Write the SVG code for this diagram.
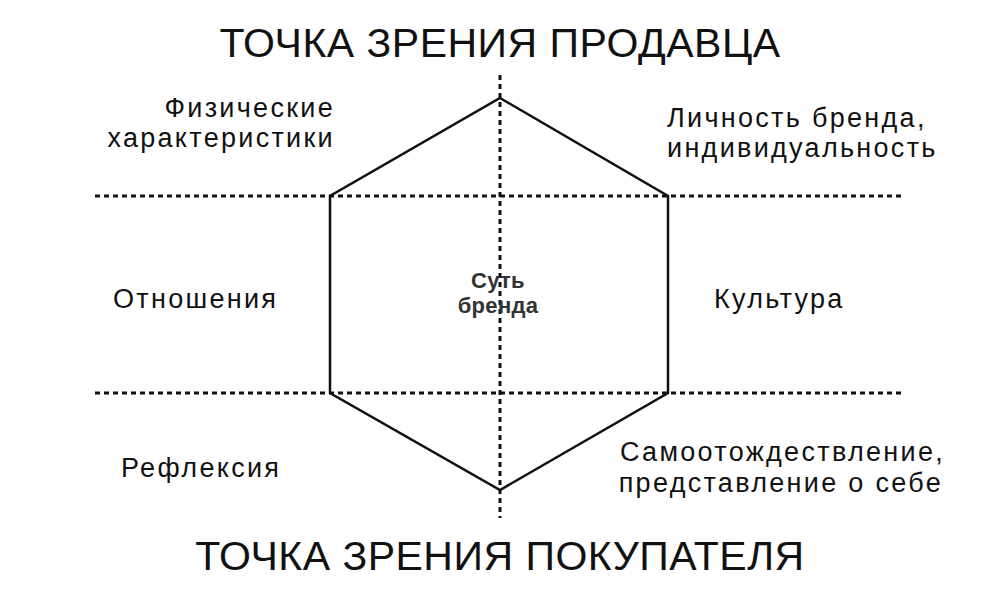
<svg xmlns="http://www.w3.org/2000/svg" width="1000" height="600" viewBox="0 0 1000 600">
<style>
.t{font-family:"Liberation Sans",Arial,sans-serif;fill:#111}
.title{font-size:41px;letter-spacing:0.5px}
.lbl{font-size:27px;letter-spacing:2.3px}
.core{font-size:22px;font-weight:bold;fill:#333;letter-spacing:0.3px}
.dot{stroke:#111;stroke-width:3;stroke-dasharray:5 4;fill:none}
.hex{stroke:#111;stroke-width:2.5;fill:none}
</style>
<rect width="1000" height="600" fill="#fff"/>
<g id="connectors">
<line class="dot" x1="95" y1="196" x2="905" y2="196"/>
<line class="dot" x1="95" y1="393" x2="905" y2="393"/>
<line class="dot" x1="500" y1="75" x2="500" y2="518"/>
</g>
<g id="hexagon">
<polygon class="hex" points="500,98 668,196 668,393 500,490 330,393 330,196"/>
</g>
<g id="title-top"><text class="t title" x="500" y="57" text-anchor="middle">ТОЧКА ЗРЕНИЯ ПРОДАВЦА</text></g>
<g id="title-bottom"><text class="t title" x="500" y="570" text-anchor="middle">ТОЧКА ЗРЕНИЯ ПОКУПАТЕЛЯ</text></g>
<g id="physical"><text class="t lbl" text-anchor="end"><tspan x="335" y="117">Физические</tspan><tspan x="335" y="147">характеристики</tspan></text></g>
<g id="personality"><text class="t lbl"><tspan x="667" y="127">Личность бренда,</tspan><tspan x="667" y="157">индивидуальность</tspan></text></g>
<g id="relations"><text class="t lbl" x="113" y="308">Отношения</text></g>
<g id="culture"><text class="t lbl" x="714" y="308">Культура</text></g>
<g id="reflection"><text class="t lbl" x="121" y="477">Рефлексия</text></g>
<g id="self"><text class="t lbl" text-anchor="end"><tspan x="945" y="461">Самоотождествление,</tspan><tspan x="943" y="492">представление о себе</tspan></text></g>
<g id="core"><text class="t core" text-anchor="middle"><tspan x="498" y="288">Суть</tspan><tspan x="498" y="313">бренда</tspan></text></g>
</svg>
